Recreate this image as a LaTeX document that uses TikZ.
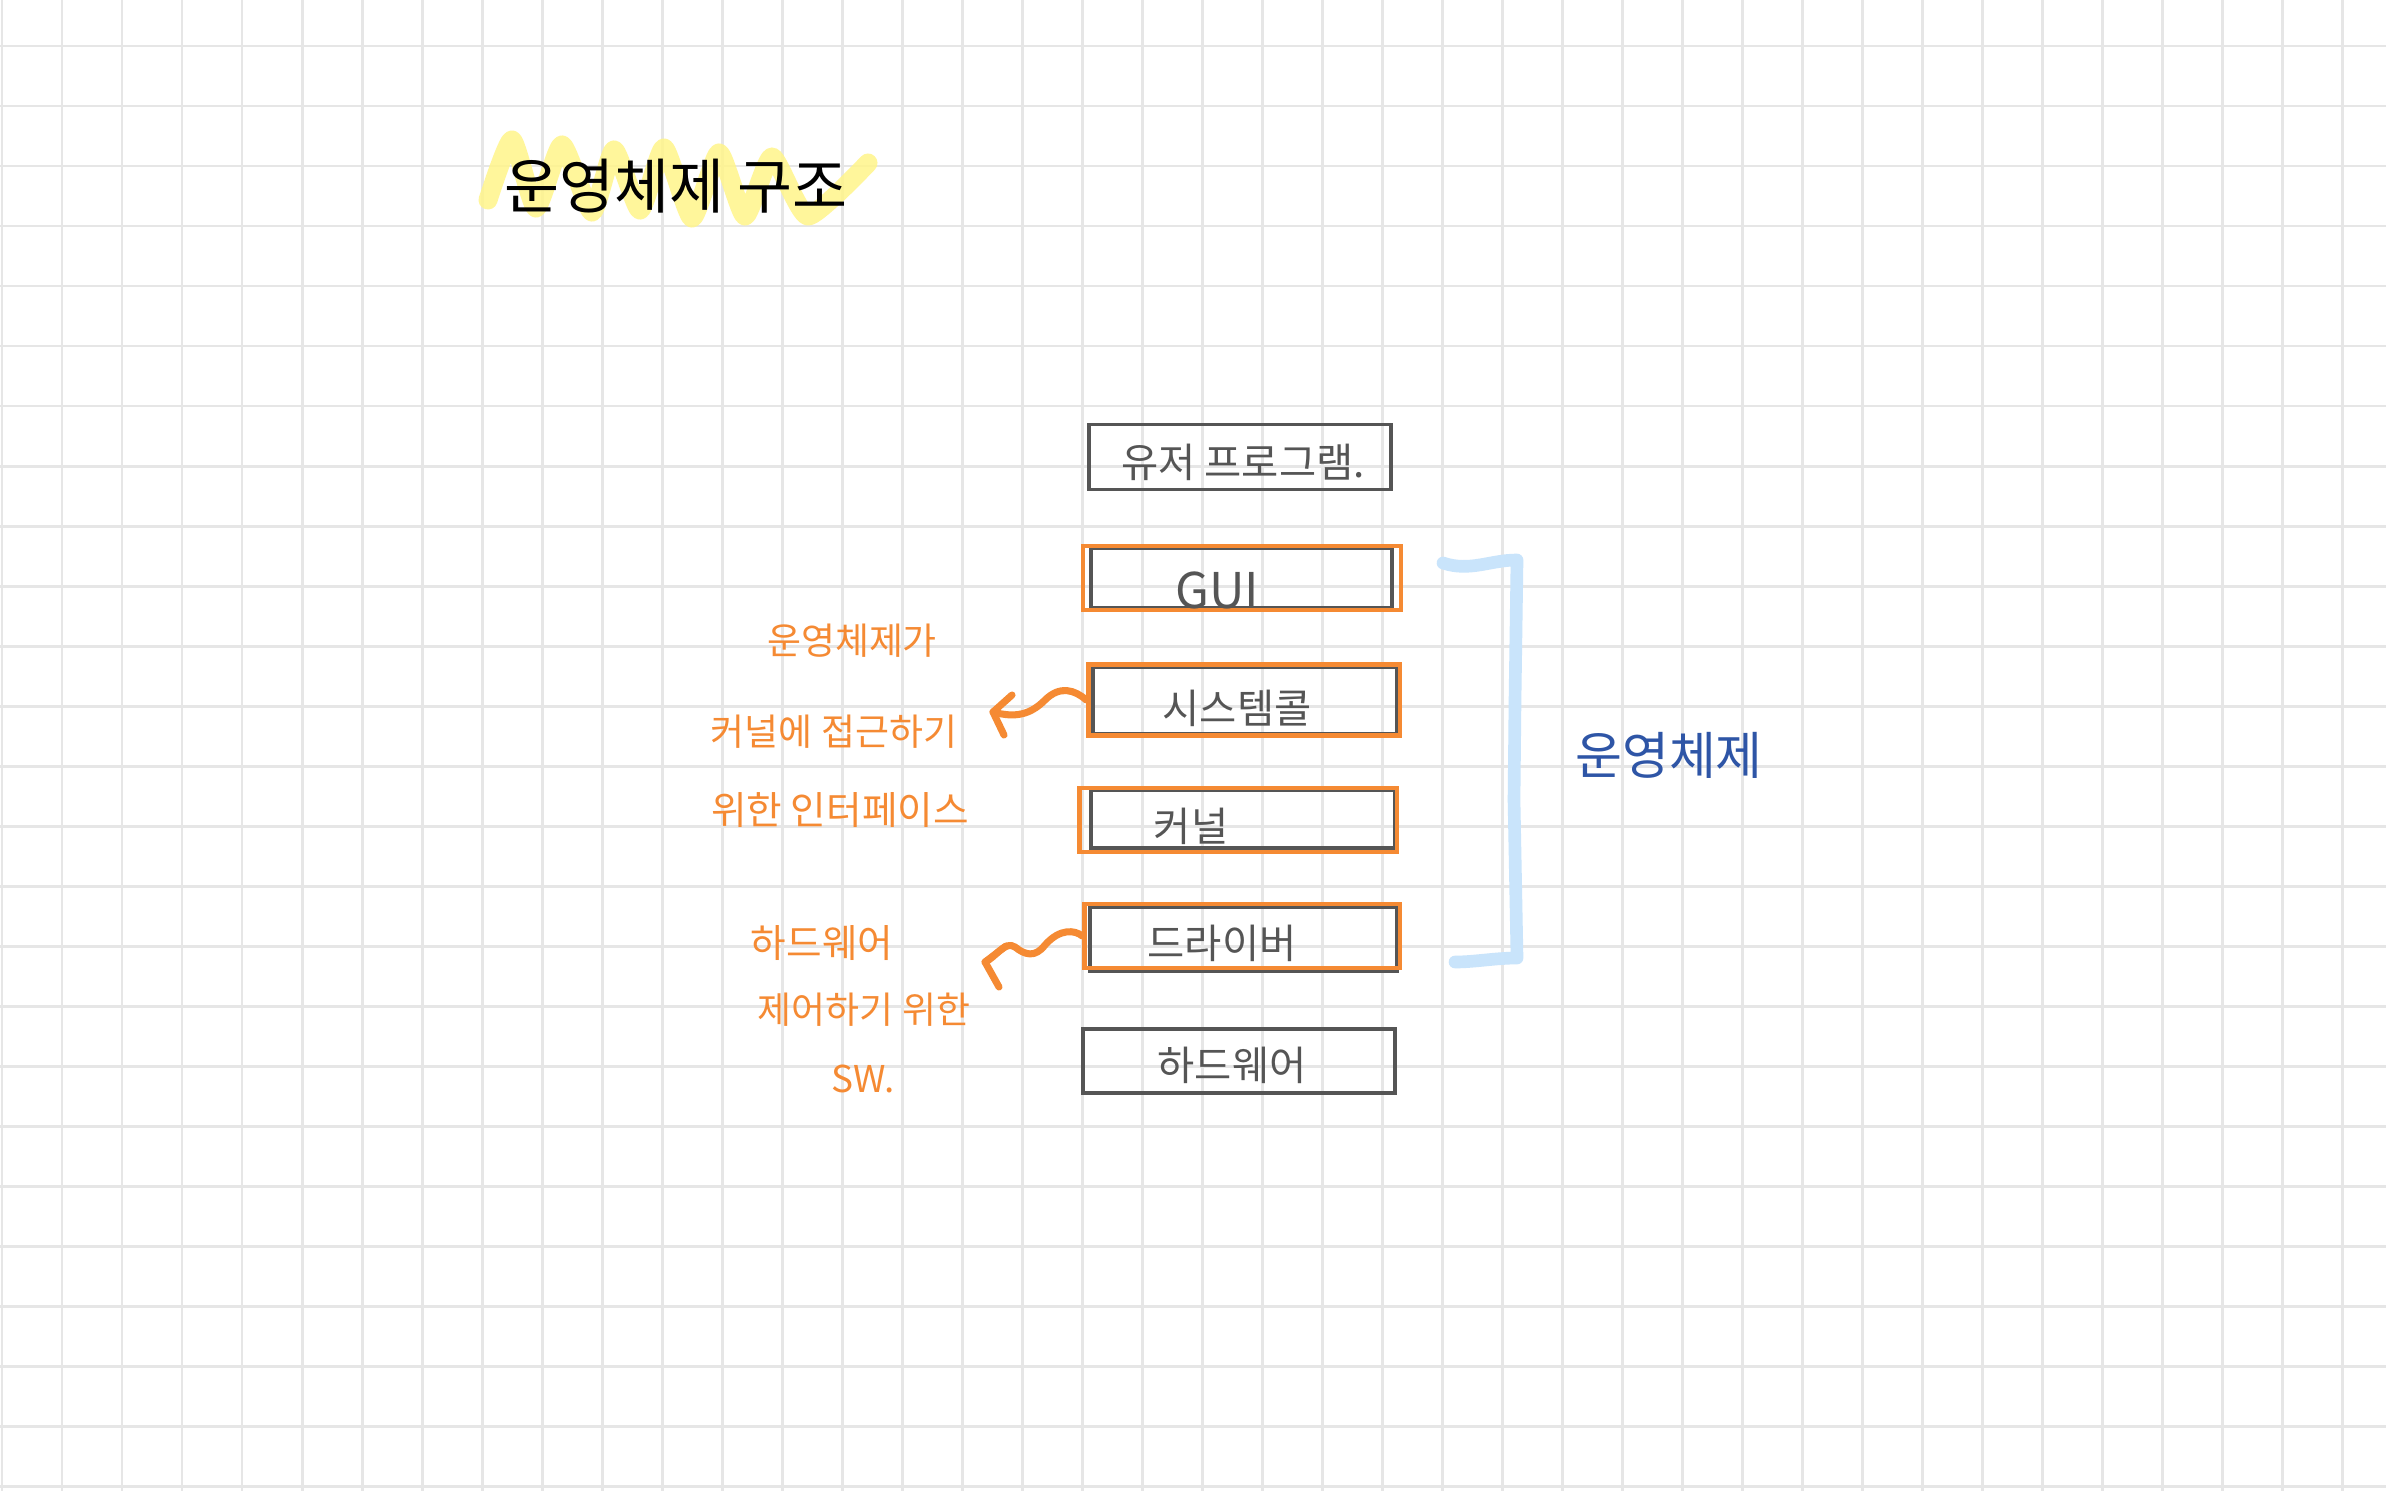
\documentclass[tikz,border=0pt]{standalone}
\usepackage{fontspec}
\setmainfont{Noto Sans CJK KR}
\definecolor{gridc}{HTML}{E6E6E6}
\definecolor{boxgray}{HTML}{555555}
\definecolor{orng}{HTML}{F58A33}
\definecolor{bluetxt}{HTML}{2E55A6}
\definecolor{bracketc}{HTML}{C9E4FB}
\definecolor{hilite}{HTML}{FFF58A}
\tikzset{
  gridline/.style={draw=gridc, line width=0.85pt},
  graybox/.style={draw=boxgray, line width=1.1pt, rectangle, inner sep=0pt},
  orangebox/.style={draw=orng, line width=1.2pt, rectangle, inner sep=0pt},
  boxlabel/.style={text=boxgray, font=\fontsize{11.5}{14}\selectfont, inner sep=0pt},
  notetext/.style={text=orng, font=\fontsize{10.5}{13}\selectfont, inner sep=0pt},
  squiggle/.style={draw=orng, line width=2pt, line cap=round, line join=round},
}
\begin{document}
\begin{tikzpicture}[x=0.01cm, y=-0.01cm]
\useasboundingbox (0,0) rectangle (2386,1491);
\fill[white] (0,0) rectangle (2386,1491);
% grid
\foreach \gx in {2,62,...,2386} \draw[gridline] (\gx,0) -- (\gx,1491);
\foreach \gy in {46,106,...,1491} \draw[gridline] (0,\gy) -- (2386,\gy);

% title highlight
\draw[hilite, opacity=0.85, line width=0.19cm, line cap=round, line join=round]
  plot[smooth, tension=0.35] coordinates {(488,200) (512,140) (536,208) (562,145) (592,212) (614,150) (640,210) (664,148) (692,218) (719,153) (745,216) (772,157) (808,216) (868,163)};
\node[font=\fontsize{17}{20}\selectfont, text=black, inner sep=0pt] (title) at (676,186) {운영체제 구조};

% boxes
\node[graybox, minimum width=3.02cm, minimum height=0.65cm] (user) at (1240,457) {};
\node[boxlabel] (userl) at (1243,462) {유저 프로그램.};

\draw[boxgray, line width=1.1pt] (1091,548) rectangle (1392,608);
\node[orangebox, minimum width=3.18cm, minimum height=0.64cm] (gui) at (1242,578) {};
\node[boxlabel, font=\fontsize{14}{16}\selectfont] (guil) at (1217,590) {GUI};

\draw[boxgray, line width=1.1pt] (1093,667) rectangle (1397,734);
\node[orangebox, minimum width=3.11cm, minimum height=0.71cm] (sys) at (1244,700) {};
\node[boxlabel] (sysl) at (1237,708) {시스템콜};

\draw[boxgray, line width=1.1pt] (1091,790) rectangle (1395,848);
\node[orangebox, minimum width=3.17cm, minimum height=0.64cm] (kern) at (1238,820) {};
\node[boxlabel] (kernl) at (1191,826) {커널};

\draw[boxgray, line width=1.1pt] (1090,907) rectangle (1397,971);
\node[orangebox, minimum width=3.15cm, minimum height=0.64cm] (drv) at (1242,936) {};
\node[boxlabel] (drvl) at (1222,943) {드라이버};

\node[graybox, minimum width=3.12cm, minimum height=0.64cm] (hw) at (1239,1061) {};
\node[boxlabel] (hwl) at (1232,1065) {하드웨어};

% bracket
\draw[bracketc, line width=3.6pt, line cap=round, line join=round]
  (1443,563) .. controls (1470,572) and (1490,560) .. (1517,560)
  -- (1515,700) -- (1514,800) -- (1517,958)
  .. controls (1495,958) and (1475,962) .. (1455,962);
\node[text=bluetxt, font=\fontsize{14.5}{17}\selectfont, inner sep=0pt] (osl) at (1669,755) {운영체제};

% left notes
\node[notetext] (n1) at (852,641) {운영체제가};
\node[notetext] (n2) at (834,732) {커널에 접근하기};
\node[notetext, font=\fontsize{11}{13}\selectfont] (n3) at (840,810) {위한 인터페이스};
\node[notetext, font=\fontsize{11}{13}\selectfont] (n4) at (822,943) {하드웨어};
\node[notetext] (n5) at (864,1010) {제어하기 위한};
\node[notetext] (n6) at (863,1079) {SW.};

% squiggly arrows
\coordinate (tip1) at (993,712);
\coordinate (tip2) at (985,962);
\draw[squiggle] (sys.west) .. controls (1075,690) and (1060,685) .. (1045,700)
  .. controls (1030,715) and (1015,718) .. (tip1);
\draw[squiggle] (1012,695) -- (tip1) -- (1004,735);
\draw[squiggle] (drv.west) .. controls (1075,930) and (1060,928) .. (1045,945)
  .. controls (1035,958) and (1025,955) .. (1015,947)
  .. controls (1005,940) and (995,958) .. (tip2);
\draw[squiggle] (1006,946) -- (tip2) -- (999,987);
\end{tikzpicture}
\end{document}
